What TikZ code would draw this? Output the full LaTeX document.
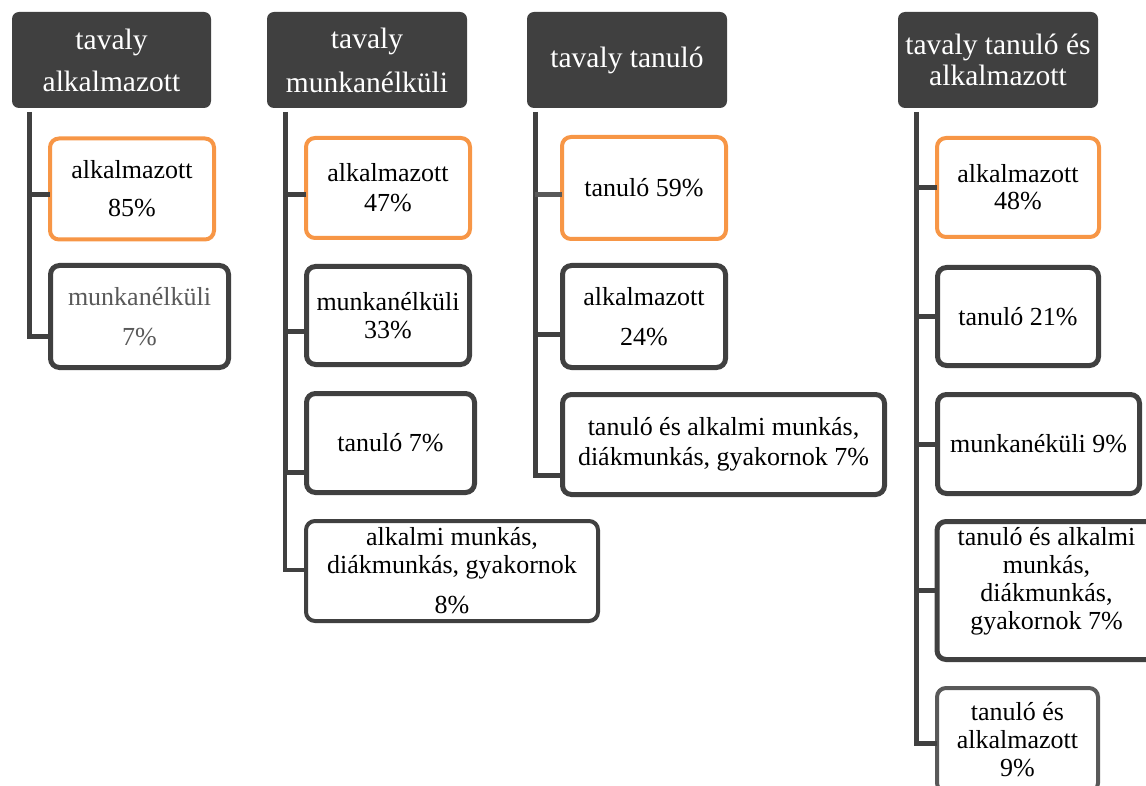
\documentclass[tikz,border=0pt]{standalone}
\usepackage{fontspec}
\setmainfont{Liberation Serif}
\definecolor{dk}{HTML}{404040}
\definecolor{og}{HTML}{F79646}
\definecolor{gy}{HTML}{595959}
\begin{document}
\begin{tikzpicture}[x=1pt,y=-1pt,
  hdr/.style={fill=dk, draw=none, rounded corners=7pt, text=white, align=center,
    inner sep=0pt, outer sep=0pt, minimum width=200pt, minimum height=96pt},
  bx/.style={draw=dk, line width=5pt, fill=white, rounded corners=9pt, align=center,
    inner sep=0pt, outer sep=0pt, text=black},
  obx/.style={bx, draw=og, line width=4pt},
  trunk/.style={draw=dk, line width=5pt},
  hf/.style={font=\fontsize{29.5}{#1}\selectfont},
  bf/.style={font=\fontsize{26}{#1}\selectfont},
]
\useasboundingbox (0,0) rectangle (1146,786);
\clip (0,0) rectangle (1146,786);

% headers
\node[hdr, hf=42, minimum width=199pt] (h1) at (111.5,60) {tavaly\\alkalmazott};
\node[hdr, hf=44] (h2) at (367,60) {tavaly\\munkanélküli};
\node[hdr, hf=36] (h3) at (627,60) {tavaly tanuló};
\node[hdr, hf=31] (h4) at (998,60) {tavaly tanuló és\\alkalmazott};

% column 1
\node[obx, bf=38, minimum width=164pt, minimum height=101pt] (a1) at (132,189) {alkalmazott\\85\%};
\node[bx, bf=40, text=gy, minimum width=178pt, minimum height=102pt] (a2) at (139.5,316.5) {munkanélküli\\7\%};

% column 2
\node[obx, bf=30, minimum width=164pt, minimum height=100pt] (b1) at (388,188) {alkalmazott\\47\%};
\node[bx, bf=28, minimum width=163pt, minimum height=98pt] (b2) at (388,315.5) {munkanélküli\\33\%};
\node[bx, bf=30, minimum width=168pt, minimum height=99pt] (b3) at (390.5,443) {tanuló 7\%};
\node[bx, bf=28, line width=4pt, minimum width=292pt, minimum height=100pt] (b4) at (452,571) {alkalmi munkás,\\diákmunkás, gyakornok\\[12pt]8\%};

% column 3
\node[obx, bf=30, minimum width=164pt, minimum height=102pt] (c1) at (644,188) {tanuló 59\%};
\node[bx, bf=40, minimum width=163pt, minimum height=102pt] (c2) at (644,316.5) {alkalmazott\\24\%};
\node[bx, bf=30, minimum width=322pt, minimum height=100pt] (c3) at (723.5,444.5) {tanuló és alkalmi munkás,\\diákmunkás, gyakornok 7\%};

% column 4
\node[obx, bf=27, minimum width=162pt, minimum height=99pt] (d1) at (1018,187.5) {alkalmazott\\48\%};
\node[bx, bf=30, minimum width=161pt, minimum height=98pt] (d2) at (1018,316.5) {tanuló 21\%};
\node[bx, bf=30, minimum width=202pt, minimum height=99pt] (d3) at (1038.5,444) {munkanéküli 9\%};
\node[bx, minimum width=223pt, minimum height=138pt,
  label={[bf=28, align=center, inner sep=0pt, yshift=9pt, xshift=-2pt]center:tanuló és alkalmi\\munkás,\\diákmunkás,\\gyakornok 7\%}] (d4) at (1048.5,590.5) {};
\node[bx, bf=28, draw=gy, line width=4pt, minimum width=161pt, minimum height=104pt] (d5) at (1017.5,740) {tanuló és\\alkalmazott\\9\%};

% branch end points
\coordinate (ea1) at ([yshift=-6pt]a1.west);
\coordinate (ea2) at ([yshift=-20.5pt]a2.west);
\coordinate (eb1) at ([yshift=-7pt]b1.west);
\coordinate (eb2) at ([yshift=-16.5pt]b2.west);
\coordinate (eb3) at ([yshift=-29pt]b3.west);
\coordinate (eb4) at ([yshift=1pt]b4.west);
\coordinate (ec1) at ([yshift=-7pt]c1.west);
\coordinate (ec2) at ([yshift=-18.5pt]c2.west);
\coordinate (ec3) at ([yshift=-30.5pt]c3.west);
\coordinate (ed5) at ([yshift=-3pt]d5.west);

% connectors column 1
\coordinate (t1) at ([xshift=17pt,yshift=-4pt]h1.south west);
\draw[trunk] (t1) |- (ea2);
\draw[trunk] (t1 |- ea1) -- (ea1);

% connectors column 2
\coordinate (t2) at ([xshift=18pt,yshift=-4pt]h2.south west);
\draw[trunk] (t2) |- (eb3);
\draw[trunk, line width=3.5pt] (t2 |- eb3) |- (eb4);
\draw[trunk] (t2 |- eb1) -- (eb1);
\draw[trunk] (t2 |- eb2) -- (eb2);

% connectors column 3
\coordinate (t3) at ([xshift=8pt,yshift=-4pt]h3.south west);
\draw[trunk] (t3) |- (ec3);
\draw[trunk, draw=gy] (t3 |- ec1) -- (ec1);
\draw[trunk] (t3 |- ec2) -- (ec2);

% connectors column 4
\coordinate (t4) at ([xshift=18pt,yshift=-4pt]h4.south west);
\draw[trunk] (t4) |- (ed5);
\draw[trunk] (t4 |- d1.west) -- (d1.west);
\draw[trunk] (t4 |- d2.west) -- (d2.west);
\draw[trunk] (t4 |- d3.west) -- (d3.west);
\draw[trunk] (t4 |- d4.west) -- (d4.west);
\end{tikzpicture}
\end{document}
